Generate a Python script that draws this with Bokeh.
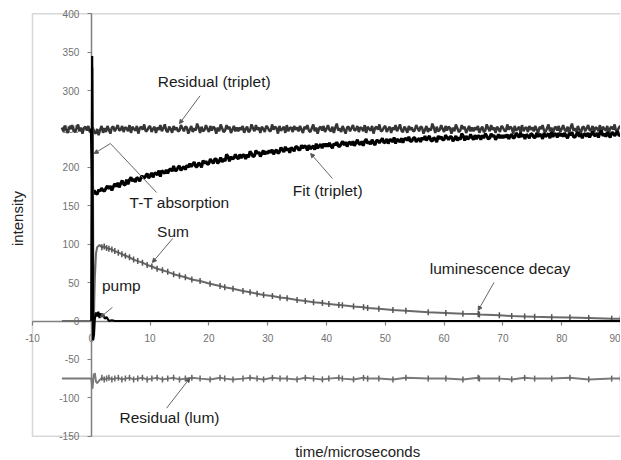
import numpy as np
from bokeh.plotting import figure
from bokeh.models import Range1d, FixedTicker, Label, Arrow, NormalHead, BoxAnnotation
from bokeh.embed import file_html
from bokeh.resources import INLINE

# ---------------- data ----------------
x_ticks = [-10, 0, 10, 20, 30, 40, 50, 60, 70, 80, 90]
x_tick_labels = ["-10", "0", "10", "20", "30", "40", "50", "60", "70", "80", "90"]
y_ticks = [-150, -100, -50, 0, 50, 100, 150, 200, 250, 300, 350, 400]
y_tick_labels = ["-150", "-100", "-50", "0", "50", "100", "150", "200", "250", "300", "350", "400"]
x_bounds = (-10, 90)
y_bounds = (-150, 400)

# Residual (triplet): sampled every 0.25 us from -5 to 90
res_trip = [
    252, 247, 254, 249, 245, 253, 250, 255, 248, 246, 251, 256, 247, 252, 244, 251, 253, 248, 254, 246,
    247, 252, 246, 244, 250, 242, 249, 254, 245, 251, 246, 254, 249, 244, 252, 253, 247, 251, 255, 248,
    249, 254, 246, 252, 251, 247, 255, 245, 253, 250, 248, 254, 244, 251, 253, 249, 256, 247, 248, 252,
    254, 246, 250, 253, 245, 252, 249, 255, 247, 251, 256, 248, 246, 253, 250, 245, 254, 249, 252, 247,
    248, 255, 251, 247, 253, 252, 244, 249, 254, 246, 251, 248, 257, 252, 245, 253, 247, 249, 255, 250,
    246, 254, 248, 253, 251, 244, 252, 247, 256, 251, 246, 248, 255, 250, 253, 245, 249, 254, 247, 252,
    247, 252, 249, 254, 245, 250, 253, 246, 248, 256, 251, 247, 255, 249, 252, 245, 253, 250, 246, 254,
    252, 248, 247, 256, 249, 253, 251, 244, 254, 248, 250, 253, 245, 255, 247, 251, 252, 246, 254, 249,
    252, 247, 254, 249, 245, 253, 250, 255, 248, 246, 251, 256, 247, 252, 244, 251, 253, 248, 254, 246,
    250, 255, 249, 247, 253, 245, 252, 257, 248, 251, 246, 254, 249, 244, 252, 253, 247, 251, 255, 248,
    249, 254, 246, 252, 251, 247, 255, 245, 253, 250, 248, 254, 244, 251, 253, 249, 256, 247, 248, 252,
    254, 246, 250, 253, 245, 252, 249, 255, 247, 251, 256, 248, 246, 253, 250, 245, 254, 249, 252, 247,
    248, 255, 251, 247, 253, 252, 244, 249, 254, 246, 251, 248, 257, 252, 245, 253, 247, 249, 255, 250,
    246, 254, 248, 253, 251, 244, 252, 247, 256, 251, 246, 248, 255, 250, 253, 245, 249, 254, 247, 252,
    247, 252, 249, 254, 245, 250, 253, 246, 248, 256, 251, 247, 255, 249, 252, 245, 253, 250, 246, 254,
    252, 248, 247, 256, 249, 253, 251, 244, 254, 248, 250, 253, 245, 255, 247, 251, 252, 246, 254, 249,
    252, 247, 254, 249, 245, 253, 250, 255, 248, 246, 251, 256, 247, 252, 244, 251, 253, 248, 254, 246,
    250, 255, 249, 247, 253, 245, 252, 257, 248, 251, 246, 254, 249, 244, 252, 253, 247, 251, 255, 248,
    249, 254, 246, 252, 251, 247, 255, 245, 253, 250, 248, 254, 244, 251, 253, 249, 256, 247, 248, 252,
    254,
]
t_trip = np.linspace(-5.0, 90.0, len(res_trip))

# Fit (triplet): sampled every 0.25 us from 0 to 90
fit_trip = [
    250, 165, 170, 166, 165, 171, 169, 173, 170, 169, 173, 176, 172, 176, 170, 175,
    179, 175, 180, 174, 179, 183, 178, 177, 184, 178, 184, 187, 182, 185, 181, 187,
    185, 182, 188, 188, 186, 189, 192, 186,
    189, 193, 187, 192, 193, 190, 196, 188, 196, 194, 192, 197, 192, 197, 198, 195,
    202, 196, 196, 200, 202, 196, 199, 201, 197, 203, 200, 205, 201, 204, 207, 201,
    201, 206, 204, 200, 209, 205, 208, 204,
    205, 211, 208, 205, 211, 211, 205, 208, 213, 207, 211, 208, 217, 214, 208, 214,
    211, 212, 217, 213, 211, 217, 212, 216, 216, 211, 217, 213, 221, 218, 214, 215,
    222, 218, 220, 214, 218, 222, 217, 221,
    218, 222, 219, 223, 217, 221, 223, 218, 220, 226, 223, 220, 227, 222, 225, 219,
    226, 224, 221, 227, 227, 223, 223, 229, 225, 228, 227, 222, 229, 224, 226, 228,
    223, 231, 225, 228, 230, 225, 231, 227,
    231, 227, 232, 228, 225, 231, 229, 233, 228, 227, 231, 234, 229, 233, 227, 232,
    233, 229, 234, 228, 232, 236, 231, 230, 234, 228, 234, 237, 231, 234, 230, 236,
    232, 229, 235, 235, 232, 235, 238, 232,
    233, 237, 231, 236, 236, 233, 239, 231, 237, 235, 233, 238, 232, 237, 238, 235,
    240, 234, 234, 238, 239, 233, 236, 238, 233, 239, 236, 241, 235, 238, 241, 235,
    234, 239, 237, 233, 241, 237, 240, 236,
    236, 242, 239, 236, 240, 240, 234, 237, 241, 235, 239, 236, 244, 241, 235, 241,
    237, 238, 243, 239, 236, 242, 237, 241, 241, 236, 242, 238, 244, 241, 237, 238,
    244, 240, 242, 236, 239, 243, 238, 242,
    238, 242, 239, 243, 237, 241, 243, 238, 239, 245, 242, 239, 245, 240, 243, 237,
    243, 241, 238, 244, 243, 239, 239, 245, 240, 243, 242, 237, 245, 240, 242, 244,
    238, 246, 240, 243, 244, 239, 245, 241,
    244, 240, 245, 241, 238, 244, 242, 246, 240, 239, 243, 246, 240, 244, 238, 243,
    244, 240, 245, 239, 243, 247, 242, 241, 245, 239, 245, 248, 241, 244, 240, 246,
    242, 239, 245, 245, 241, 244, 247, 241,
    243,
]
t_fit = np.linspace(0.0, 90.0, len(fit_trip))

# Luminescence (Sum / decay) and its residual, sampled at uneven times
t_lum = [
    -5, -3, -1, 0, 0.2, 0.4, 0.6, 0.8, 1.0, 1.4,
    1.8, 2.2, 2.6, 3.0, 3.5, 4.0, 4.6, 5.2, 5.8, 6.5,
    7.2, 7.9, 8.7, 9.5, 10.3, 11.2, 12.1, 13.0, 14.0, 15.0,
    16.0, 17.1, 18.5, 20.2, 21.9, 22.7, 24.1, 25.8, 27.0, 28.2,
    29.3, 30.8, 32.1, 33.3, 35.0, 36.4, 37.8, 39.3, 40.4, 42.1,
    42.7, 44.6, 46.3, 47.0, 48.9, 51.3, 53.5, 57.3, 60.3, 63.2,
    65.8, 66.0, 69.4, 71.5, 73.7, 75.4, 78.3, 81.4, 84.6, 88.5,
    90.0,
]
lum = [
    0, 0, 0, 0, 330, -12, 55, 88, 96, 99,
    96, 97, 95, 94, 93, 91, 89, 87, 85, 83,
    80, 78, 76, 73, 71, 68, 66, 64, 61, 59,
    57, 54, 52, 48.5, 45.5, 44, 42, 39, 37.5, 35.5,
    34, 32.5, 30.5, 29.5, 27.5, 26, 24.5, 23.5, 22, 21,
    20.5, 19, 18, 17, 16, 14.5, 13.5, 11.5, 10.5, 9.5,
    9, 8.5, 7.5, 6.5, 6, 5.5, 5, 4.5, 4, 3,
    3,
]
res_lum = [
    -75, -75, -75, -75, -88, -70, -68, -79, -81, -77,
    -74, -76, -75, -74, -76, -75, -74, -76, -75, -74,
    -76, -75, -74, -76, -75, -74, -76, -75, -74, -76,
    -75, -74, -75, -76, -74, -75, -76, -75, -74, -75,
    -76, -74, -75, -75, -76, -74, -75, -76, -75, -74,
    -75, -76, -74, -75, -75, -76, -74, -75, -75, -76,
    -74, -75, -75, -76, -74, -75, -75, -74, -76, -75,
    -75,
]

# Pump pulse
t_pump = [0, 0.15, 0.3, 0.45, 0.6, 0.8, 1.0, 1.2, 1.4, 1.6, 1.8, 2.0, 2.3, 2.6, 3.0, 3.5, 4.0, 90]
pump = [0, 345, -25, -18, 3, 11, 6, 12, 4, 10, 6, 9, 3, 5, 0, 1, 0, 0]

# ---------------- figure ----------------
FONT = "Liberation Sans"

# the frame covers the whole canvas; the visible plot box is drawn at the axis bounds
p = figure(width=620, height=460, x_range=Range1d(-15.44, 90.0), y_range=Range1d(-181.6, 417.3),
           output_backend="svg", toolbar_location=None, title=None,
           min_border_left=0, min_border_right=0, min_border_top=0, min_border_bottom=0)
p.outline_line_color = None
p.grid.visible = False
p.background_fill_color = "white"

p.add_layout(BoxAnnotation(left=x_bounds[0], right=x_bounds[1], bottom=y_bounds[0], top=y_bounds[1],
                           fill_color=None, fill_alpha=0, line_color="#7a7a7a", line_width=1.5,
                           level="underlay"))

for ax, ticks, labels, bnds in ((p.xaxis[0], x_ticks, x_tick_labels, x_bounds),
                                (p.yaxis[0], y_ticks, y_tick_labels, y_bounds)):
    ax.fixed_location = 0
    ax.bounds = bnds
    ax.ticker = FixedTicker(ticks=ticks)
    ax.major_label_overrides = {t: l for t, l in zip(ticks, labels)}
    ax.axis_line_color = "#808080"
    ax.axis_line_width = 1.5
    ax.major_tick_line_color = "#808080"
    ax.major_tick_line_width = 1.2
    ax.major_tick_in = 0
    ax.major_tick_out = 4
    ax.minor_tick_line_color = None
    ax.major_label_text_font = FONT
    ax.major_label_text_font_size = "10px"
    ax.major_label_text_color = "#707070"
    ax.level = "underlay"
p.xaxis.major_label_standoff = 9
p.yaxis.major_label_standoff = 8

p.line(t_trip, res_trip, line_color="#353535", line_width=2.5)
p.line(t_fit, fit_trip, line_color="#000000", line_width=3.0)

t_lum_a = np.array(t_lum)
mask = t_lum_a >= 1.8
p.line(t_lum, res_lum, line_color="#7a7a7a", line_width=2)
p.scatter(t_lum_a[mask], np.array(res_lum)[mask], marker="dash", angle=np.pi / 2, size=6,
          line_color="#666666", line_width=1.5)
p.line(t_lum, lum, line_color="#6a6a6a", line_width=2)
p.scatter(t_lum_a[mask], np.array(lum)[mask], marker="dash", angle=np.pi / 2, size=6,
          line_color="#555555", line_width=1.5)
p.line(t_pump, pump, line_color="#000000", line_width=2.2)

# ---------------- annotations ----------------
def label(x, y, text, size="15.5px", color="#1a1a1a", angle=0.0):
    p.add_layout(Label(x=x, y=y, text=text, text_font=FONT, text_font_size=size,
                       text_color=color, text_align="center", text_baseline="middle",
                       angle=angle))

def pointer(x0, y0, x1, y1, head=True):
    end = NormalHead(size=4, line_color="#555555", fill_color="#555555") if head else None
    p.add_layout(Arrow(x_start=x0, y_start=y0, x_end=x1, y_end=y1, end=end,
                       line_color="#666666", line_width=1))

label(20.9, 311.7, "Residual (triplet)")
pointer(18.5, 293.3, 15.0, 257.0)
label(40.2, 169.7, "Fit (triplet)")
pointer(41.0, 185.6, 37.3, 218.1)
label(15.0, 154.1, "T-T absorption")
pointer(11.1, 167.4, 3.25, 231.1, head=False)
pointer(3.25, 231.1, 0.5, 218.1)
label(13.9, 116.6, "Sum")
pointer(13.85, 107.5, 10.4, 76.3)
label(5.1, 46.4, "pump")
pointer(3.6, 17.8, 1.54, 4.8)
label(69.5, 67.9, "luminescence decay")
pointer(68.5, 50.3, 65.8, 13.9)
label(13.3, -125.8, "Residual (lum)")
pointer(12.8, -113.5, 16.75, -74.5)

# axis titles
label(45.3, -169.4, "time/microseconds", size="15px", color="#222222")
label(-12.6, 133.4, "intensity", size="15px", color="#222222", angle=np.pi / 2)

open("out.html", "w").write(file_html(p, INLINE))
